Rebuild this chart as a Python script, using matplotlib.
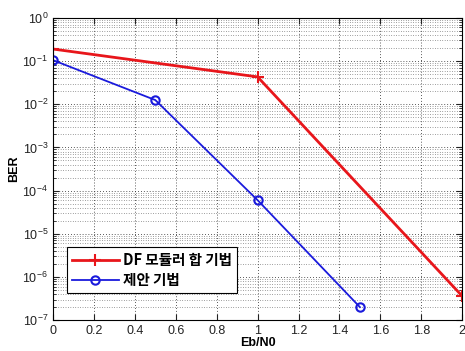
import numpy as np
import matplotlib.pyplot as plt
from matplotlib.ticker import LogLocator, NullFormatter

plt.rcParams["font.family"] = ["Liberation Sans", "Noto Sans CJK KR", "DejaVu Sans"]

# data
x_df = [0, 1, 2]
ber_df = [0.19, 0.043, 3.6e-7]
x_prop = [0, 0.5, 1, 1.5]
ber_prop = [0.105, 0.0125, 6e-5, 2e-7]
labels = ["DF 모듈러 합 기법", "제안 기법"]
xticks = [0, 0.2, 0.4, 0.6, 0.8, 1, 1.2, 1.4, 1.6, 1.8, 2]
xticklabels = ["0", "0.2", "0.4", "0.6", "0.8", "1", "1.2", "1.4", "1.6", "1.8", "2"]

fig = plt.figure(figsize=(4.65, 3.51), dpi=100)
ax = fig.add_axes([0.114, 0.088, 0.880, 0.861])

ax.semilogy(x_df, ber_df, color="#e8161b", lw=2, marker="+", ms=8, mew=1.5, label=labels[0])
ax.semilogy(x_prop, ber_prop, color="#1a1adc", lw=1.3, marker="o", ms=6, mfc="none", mew=1.5, label=labels[1])

ax.set_xlim(0, 2)
ax.set_ylim(1e-7, 1)
ax.set_xticks(xticks)
ax.set_xticklabels(xticklabels)
ax.yaxis.set_major_locator(LogLocator(base=10, numticks=10))
ax.yaxis.set_minor_locator(LogLocator(base=10, subs=np.arange(2, 10), numticks=20))
ax.yaxis.set_minor_formatter(NullFormatter())

ax.grid(True, which="major", linestyle=(0, (1, 2.5)), color="#222222", lw=0.6)
ax.grid(True, which="minor", axis="y", linestyle=(0, (1, 2.5)), color="#444444", lw=0.5)
ax.tick_params(which="both", direction="in", top=True, right=True, labelsize=9, colors="#222222")
ax.tick_params(which="minor", length=2)
ax.tick_params(which="major", length=4)

ax.set_xlabel("Eb/N0", fontsize=9, fontweight="bold", labelpad=0)
ax.set_ylabel("BER", fontsize=9, fontweight="bold", labelpad=2)

leg = ax.legend(loc="lower left", bbox_to_anchor=(0.034, 0.089), borderaxespad=0,
                fancybox=False, edgecolor="black", framealpha=1,
                handlelength=3.2, borderpad=0.35, labelspacing=0.25, handletextpad=0.3,
                prop={"family": ["Noto Sans CJK KR", "DejaVu Sans"], "weight": "bold", "size": 10.5})
leg.get_frame().set_linewidth(0.8)

fig.savefig("out.png", dpi=100)
